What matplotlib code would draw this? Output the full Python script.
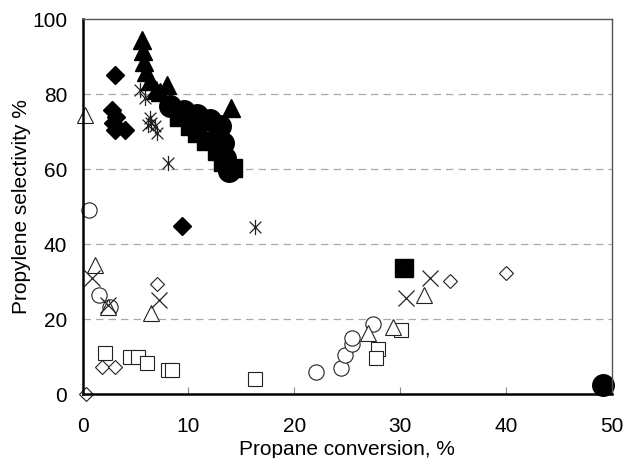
import numpy as np
import matplotlib
matplotlib.use("Agg")
import matplotlib.pyplot as plt
from matplotlib.path import Path

plt.rcParams['font.family'] = ['Liberation Sans', 'DejaVu Sans']

# filled series
tri_f_x = [5.6, 5.7, 5.8, 6.0, 6.4, 6.9, 7.3, 8.0, 14.0]
tri_f_y = [94.5, 91.5, 88.5, 86.0, 83.5, 81.0, 80.5, 82.5, 76.2]
dia_f_x = [3.1, 2.8, 3.2, 2.9, 4.0, 3.1, 9.4]
dia_f_y = [85.1, 75.8, 74.0, 72.3, 70.5, 70.5, 44.8]
cir_f_x = [8.3, 9.6, 10.8, 12.0, 13.0, 13.3, 13.5, 13.8, 49.2]
cir_f_y = [76.7, 75.4, 74.5, 73.2, 71.4, 67.0, 63.0, 59.4, 2.5]
sq_f_x = [9.1, 10.2, 10.8, 11.7, 12.7, 13.3, 14.2, 30.4]
sq_f_y = [74.0, 71.4, 69.6, 67.4, 64.7, 62.0, 60.2, 33.6]
star_x = [5.4, 5.9, 6.4, 6.5, 6.85, 6.2, 7.0, 8.1, 16.3]
star_y = [81.1, 79.0, 73.7, 72.3, 71.4, 71.8, 69.6, 61.6, 44.6]

# open series
tri_o_x = [0.24, 1.2, 2.4, 6.45, 27.0, 29.3, 32.3]
tri_o_y = [74.5, 34.5, 23.4, 21.6, 16.3, 17.9, 26.5]
x_o_x = [0.9, 2.4, 7.2, 30.6, 32.8]
x_o_y = [30.9, 23.8, 25.1, 25.8, 30.9]
cir_o_x = [0.6, 1.6, 2.6, 22.1, 24.4, 24.8, 25.5, 25.5, 27.4]
cir_o_y = [49.0, 26.5, 23.4, 6.0, 7.1, 10.5, 13.3, 14.9, 18.7]
sq_o_x = [2.1, 4.5, 5.2, 6.1, 8.05, 8.5, 16.3, 30.1, 27.9, 27.7]
sq_o_y = [11.1, 10.0, 9.9, 8.3, 6.5, 6.5, 4.1, 17.1, 12.0, 9.6]
dia_o_x = [0.3, 1.8, 3.1, 7.0, 34.7, 40.0]
dia_o_y = [0.0, 7.4, 7.2, 29.4, 30.2, 32.3]

star = Path([(-1, -1), (1, 1), (-1, 1), (1, -1), (0, -1.3), (0, 1.3)],
            [Path.MOVETO, Path.LINETO, Path.MOVETO, Path.LINETO, Path.MOVETO, Path.LINETO])

fig = plt.figure(figsize=(6.25, 4.58), dpi=100)
ax = fig.add_axes([0.132, 0.139, 0.847, 0.8195])

ax.set_xlim(0, 50)
ax.set_ylim(0, 100)
for g in [20, 40, 60, 80]:
    ax.axhline(g, color='#aaaaaa', lw=0.9, ls=(0, (6, 4)), zorder=0)

ok = dict(ls='none', mfc='white', mec='#222222', mew=0.8, clip_on=False)
ax.plot(sq_o_x, sq_o_y, marker='s', ms=10.5, **ok)
ax.plot(cir_o_x, cir_o_y, marker='o', ms=11, **ok)
ax.plot(tri_o_x, tri_o_y, marker='^', ms=11, **ok)
ax.plot(dia_o_x, dia_o_y, marker='D', ms=7.5, **ok)
ax.plot(x_o_x, x_o_y, marker='x', ms=11, ls='none', color='#222222', mew=0.9)
ax.plot(star_x, star_y, marker=star, ms=11, ls='none', color='#222222', mew=0.9)

fk = dict(ls='none', color='black', clip_on=False)
ax.plot(sq_f_x, sq_f_y, marker='s', ms=12.5, **fk)
ax.plot(cir_f_x, cir_f_y, marker='o', ms=15.5, **fk)
ax.plot(tri_f_x, tri_f_y, marker='^', ms=13, **fk)
ax.plot(dia_f_x, dia_f_y, marker='D', ms=9, **fk)

ax.set_xticks(np.arange(0, 51, 10))
ax.set_yticks(np.arange(0, 101, 20))
ax.tick_params(axis='x', direction='in', length=5, color='#888888', labelsize=15, pad=16)
ax.tick_params(axis='y', length=0, labelsize=15, pad=11)
for s in ['left', 'bottom']:
    ax.spines[s].set_linewidth(1.8)
    ax.spines[s].set_color('black')
for s in ['top', 'right']:
    ax.spines[s].set_linewidth(1.0)
    ax.spines[s].set_color('#555555')

ax.set_xlabel('Propane conversion, %', fontsize=15, labelpad=3)
ax.set_ylabel('Propylene selectivity %', fontsize=15, labelpad=1)

fig.savefig('out.png', dpi=100)
